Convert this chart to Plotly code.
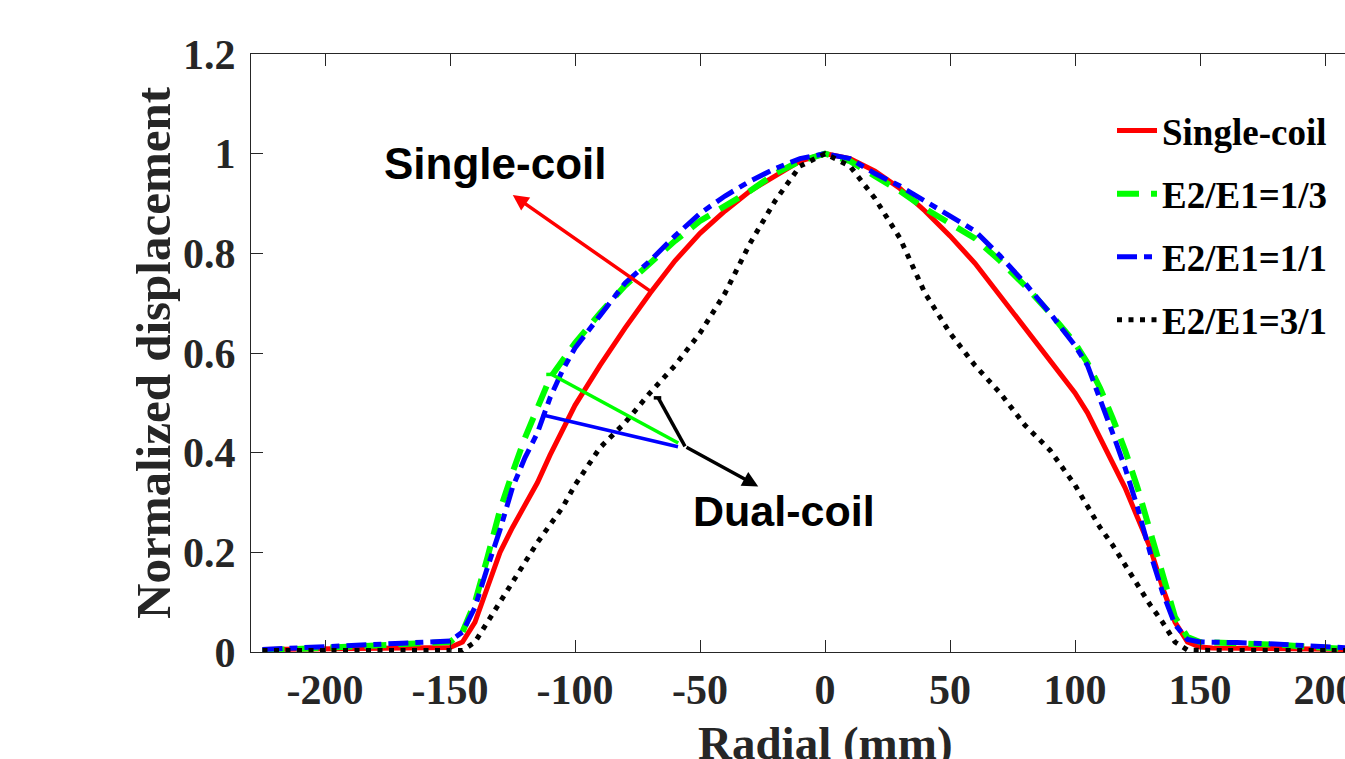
import plotly.graph_objects as go

# Radial positions (mm)
radial = [-225, -210, -195, -180, -165, -155, -150, -145, -140, -135, -130, -125, -120, -115,
          -110, -105, -100, -90, -80, -70, -60, -50, -40, -30, -20, -10, 0,
          10, 20, 30, 40, 50, 60, 70, 80, 90, 100, 105, 110, 115, 120, 125, 130, 135,
          140, 145, 150, 155, 165, 180, 195, 210]

single_coil = [0.005, 0.006, 0.007, 0.007, 0.008, 0.008, 0.009, 0.02, 0.06, 0.13, 0.2, 0.25, 0.295, 0.34,
               0.395, 0.445, 0.495, 0.575, 0.65, 0.72, 0.785, 0.84, 0.885, 0.925, 0.955, 0.985, 1.0,
               0.99, 0.965, 0.93, 0.885, 0.835, 0.78, 0.715, 0.65, 0.585, 0.52, 0.48, 0.43, 0.38, 0.33, 0.27, 0.21, 0.13,
               0.06, 0.02, 0.01, 0.008, 0.008, 0.007, 0.006, 0.005]

ratio_1_3 = [0.003, 0.006, 0.01, 0.013, 0.016, 0.018, 0.02, 0.04, 0.1, 0.19, 0.285, 0.36, 0.43, 0.49,
             0.55, 0.585, 0.62, 0.68, 0.735, 0.78, 0.825, 0.865, 0.895, 0.925, 0.96, 0.985, 1.0,
             0.985, 0.955, 0.925, 0.89, 0.86, 0.83, 0.785, 0.735, 0.68, 0.62, 0.58, 0.53, 0.47, 0.405, 0.33, 0.24, 0.15,
             0.07, 0.03, 0.02, 0.019, 0.018, 0.015, 0.01, 0.006]

ratio_1_1 = [0.005, 0.008, 0.013, 0.016, 0.019, 0.02, 0.022, 0.04, 0.09, 0.17, 0.245, 0.33, 0.39, 0.44,
             0.51, 0.565, 0.61, 0.675, 0.74, 0.785, 0.835, 0.88, 0.915, 0.945, 0.97, 0.99, 1.0,
             0.99, 0.96, 0.935, 0.905, 0.875, 0.845, 0.795, 0.74, 0.68, 0.615, 0.575, 0.51, 0.44, 0.37, 0.29, 0.2, 0.12,
             0.055, 0.025, 0.02, 0.02, 0.019, 0.016, 0.012, 0.008]

ratio_3_1 = [0.003, 0.003, 0.003, 0.003, 0.003, 0.003, 0.003, 0.003, 0.02, 0.06, 0.1, 0.14, 0.18, 0.22,
             0.255, 0.29, 0.335, 0.41, 0.46, 0.52, 0.575, 0.64, 0.72, 0.82, 0.905, 0.975, 1.0,
             0.975, 0.91, 0.83, 0.72, 0.64, 0.575, 0.52, 0.455, 0.405, 0.335, 0.29, 0.25, 0.215, 0.175, 0.135, 0.095, 0.06,
             0.02, 0.004, 0.003, 0.003, 0.003, 0.003, 0.003, 0.003]

series_names = ["Single-coil", "E2/E1=1/3", "E2/E1=1/1", "E2/E1=3/1"]
x_ticks = [-200, -150, -100, -50, 0, 50, 100, 150, 200]
x_tick_text = ["-200", "-150", "-100", "-50", "0", "50", "100", "150", "200"]
y_ticks = [0, 0.2, 0.4, 0.6, 0.8, 1.0, 1.2]
y_tick_text = ["0", "0.2", "0.4", "0.6", "0.8", "1", "1.2"]

W, H = 1345, 759
L, T, B = 251, 54, 107
AX = "#262626"

fig = go.Figure()
styles = [
    dict(color="#ff0000", width=5, dash="solid"),
    dict(color="#00ff00", width=6, dash="22px,12px"),
    dict(color="#0000ff", width=5, dash="20px,7px,8px,7px"),
    dict(color="#000000", width=5, dash="5px,6.5px"),
]
for name, ys, st, g in zip(series_names, [single_coil, ratio_1_3, ratio_1_1, ratio_3_1], styles, "abcd"):
    fig.add_trace(go.Scatter(x=radial, y=ys, mode="lines", name=name, line=st, legendgroup=g))

# window-pixel -> paper helpers (plot area spans x 251..1345, y 54..652)
PL, PR, PT, PB = 251, 1345, 54, 652
def px(xp):
    return (xp - PL) / (PR - PL)
def py(yp):
    return 1 - (yp - PT) / (PB - PT)

fig.update_layout(
    width=W, height=H,
    margin=dict(l=L, r=0, t=T, b=B, pad=0, autoexpand=False),
    paper_bgcolor="white", plot_bgcolor="white",
    font=dict(family="Liberation Serif", color=AX),
    showlegend=True,
    legend=dict(
        x=px(1112), y=py(100), xanchor="left", yanchor="top",
        bgcolor="rgba(0,0,0,0)", borderwidth=0,
        font=dict(family="Liberation Serif", size=37, color="#000000", weight="bold"),
        tracegroupgap=12, itemwidth=40,
    ),
    xaxis=dict(
        range=[-229.6, 208], tickvals=x_ticks, ticktext=x_tick_text, automargin=False,
        ticks="inside", ticklen=12, tickcolor=AX, tickwidth=1,
        showline=True, linecolor=AX, linewidth=1, mirror="ticks", showgrid=False, zeroline=False,
        tickfont=dict(family="Liberation Serif", size=42, color=AX, weight="bold"),
        ticklabelstandoff=1, ticklabeloverflow="allow",
    ),
    yaxis=dict(
        range=[0, 1.2], tickvals=y_ticks, ticktext=y_tick_text, automargin=False,
        ticks="inside", ticklen=12, tickcolor=AX, tickwidth=1,
        showline=True, linecolor=AX, linewidth=1, mirror=False, showgrid=False, zeroline=False,
        tickfont=dict(family="Liberation Serif", size=42, color=AX, weight="bold"),
        ticklabelstandoff=6,
    ),
)

# axis titles
fig.add_annotation(text="<b>Normalized displacement</b>", xref="paper", yref="paper",
                   x=px(153), y=py(353), textangle=-90, showarrow=False,
                   font=dict(family="Liberation Serif", size=49, color=AX), xanchor="center", yanchor="middle")
fig.add_annotation(text="<b>Radial (mm)</b>", xref="paper", yref="paper",
                   x=px(825), y=py(743), showarrow=False,
                   font=dict(family="Liberation Serif", size=47, color=AX), xanchor="center", yanchor="middle")

# text labels
fig.add_annotation(text="<b>Single-coil</b>", x=-132, y=0.98, showarrow=False,
                   font=dict(family="Liberation Sans", size=44, color="black"))
fig.add_annotation(text="<b>Dual-coil</b>", x=-16.6, y=0.282, showarrow=False,
                   font=dict(family="Liberation Sans", size=43, color="black"))

# arrows
fig.add_annotation(text="", x=-124.9, y=0.917, ax=-69.3, ay=0.722, axref="x", ayref="y",
                   showarrow=True, arrowhead=2, arrowsize=0.9, arrowwidth=3.5, arrowcolor="#ff0000")
fig.add_annotation(text="", x=-26.7, y=0.332, ax=-56, ay=0.4127, axref="x", ayref="y",
                   showarrow=True, arrowhead=2, arrowsize=0.9, arrowwidth=3.5, arrowcolor="#000000")

# pointer lines
fig.add_shape(type="line", x0=-111.5, y0=0.557, x1=-109.3, y1=0.557, line=dict(color="#00ff00", width=3.5))
fig.add_shape(type="line", x0=-109.3, y0=0.557, x1=-58.7, y1=0.4195, line=dict(color="#00ff00", width=3.5))
fig.add_shape(type="line", x0=-113.3, y0=0.476, x1=-58.8, y1=0.412, line=dict(color="#0000ff", width=3.5))
fig.add_shape(type="line", x0=-68.5, y0=0.51, x1=-65.5, y1=0.51, line=dict(color="#000000", width=3.5))
fig.add_shape(type="line", x0=-66.7, y0=0.51, x1=-56, y1=0.4127, line=dict(color="#000000", width=3.5))

fig.write_html("out.html", config={"displayModeBar": False},
               post_script="document.body.style.margin='0';document.body.style.overflow='hidden';")
